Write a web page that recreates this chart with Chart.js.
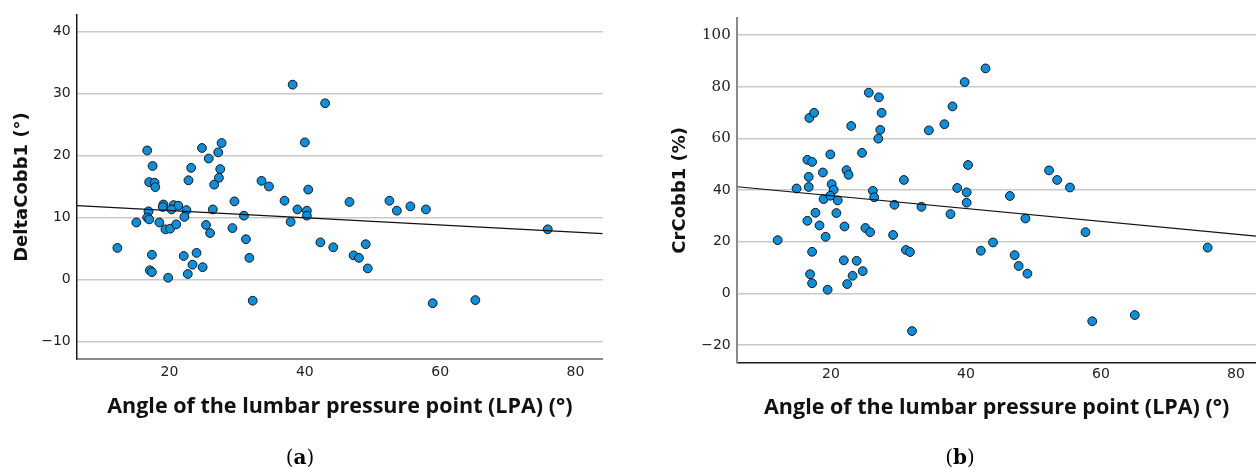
<!DOCTYPE html>
<html>
<head>
<meta charset="utf-8">
<script src="https://cdn.jsdelivr.net/npm/chart.js@4.4.1/dist/chart.umd.min.js"></script>
<style>
    html, body { margin: 0; padding: 0; background: #fff; }
    #wrap { position: relative; width: 1256px; height: 468px; overflow: hidden; }
    .box { position: absolute; top: 0; height: 468px; }
    #boxA { left: 0; width: 640px; }
    #boxB { left: 640px; width: 616px; }
    .cap { position: absolute; top: 445px; font-family: 'DejaVu Serif', serif; font-size: 20px; color: #000; transform: translateX(-50%); }
</style>
</head>
<body>
<div id="wrap">
    <div class="box" id="boxA"><canvas id="chartA" width="640" height="468"></canvas></div>
    <div class="box" id="boxB"><canvas id="chartB" width="616" height="468"></canvas></div>
    <div class="cap" style="left:300px">(<b>a</b>)</div>
    <div class="cap" style="left:960px">(<b>b</b>)</div>
</div>
<script>
// (a) LPA vs DeltaCobb1
const lpaA = [38.2, 40.0, 16.7, 17.5, 24.8, 25.8, 27.2, 27.7, 23.2, 27.5,
    17.0, 17.8, 17.9, 22.8, 27.3, 26.6, 33.6, 34.7, 40.5, 37.0,
    29.6, 19.1, 20.6, 21.3, 20.3, 22.5, 16.9, 16.7, 17.0, 15.1,
    18.5, 19.4, 20.1, 21.0, 22.2, 26.4, 25.4, 26.0, 29.3, 31.0,
    31.3, 37.9, 38.9, 40.3, 40.3, 42.3, 12.3, 17.4, 22.1, 24.0,
    23.4, 24.9, 22.7, 31.8, 17.1, 17.4, 19.8, 32.3, 46.6, 52.5,
    53.6, 55.6, 57.9, 44.2, 47.2, 48.0, 49.0, 49.3, 58.9, 65.2,
    75.9, 43.0, 19.0];
const deltaCobb1 = [31.4, 22.1, 20.8, 18.3, 21.2, 19.5, 20.5, 22.0, 18.0, 17.8,
    15.7, 15.6, 14.9, 16.0, 16.4, 15.3, 15.9, 15.0, 14.5, 12.7,
    12.6, 12.1, 12.0, 11.9, 11.3, 11.2, 11.0, 10.0, 9.7, 9.2,
    9.2, 8.1, 8.2, 8.9, 10.1, 11.3, 8.8, 7.5, 8.3, 10.3,
    6.5, 9.3, 11.3, 11.1, 10.3, 6.0, 5.1, 4.0, 3.8, 4.3,
    2.4, 2.0, 0.9, 3.5, 1.5, 1.2, 0.3, -3.4, 12.5, 12.7,
    11.1, 11.8, 11.3, 5.2, 3.9, 3.5, 5.7, 1.8, -3.8, -3.3,
    8.1, 28.4, 11.7];
const fitA = { intercept: 12.27, slope: -0.058 };

// (b) LPA vs CrCobb1
const lpaB = [25.6, 27.1, 27.5, 16.8, 17.5, 23.0, 27.3, 27.0, 34.5, 36.8,
    38.0, 16.5, 17.2, 19.9, 24.6, 16.7, 18.8, 22.3, 22.6, 30.8,
    42.9, 39.8, 40.3, 52.3, 53.5, 16.7, 14.9, 20.1, 20.4, 18.9,
    19.9, 21.0, 26.2, 26.4, 29.4, 33.4, 37.7, 38.7, 17.7, 20.8,
    16.5, 18.3, 22.0, 19.2, 25.1, 25.8, 29.2, 12.1, 17.2, 31.1,
    31.7, 21.9, 23.8, 24.7, 16.9, 17.2, 23.2, 22.4, 19.5, 32.0,
    55.4, 40.1, 40.1, 46.5, 48.8, 57.7, 44.0, 42.2, 47.2, 47.8,
    49.1, 75.8, 58.7, 65.0];
const crCobb1 = [77.7, 75.9, 69.9, 67.9, 69.9, 64.8, 63.3, 59.9, 63.1, 65.5,
    72.4, 51.7, 50.9, 53.8, 54.4, 45.1, 46.8, 47.7, 45.9, 43.9,
    87.1, 81.8, 49.7, 47.6, 43.9, 41.2, 40.6, 42.3, 40.1, 36.5,
    37.8, 36.0, 39.7, 37.2, 34.3, 33.5, 30.7, 40.8, 31.2, 31.1,
    28.1, 26.3, 25.9, 21.9, 25.3, 23.7, 22.6, 20.6, 16.1, 16.8,
    16.0, 12.8, 12.6, 8.6, 7.4, 3.9, 6.8, 3.6, 1.4, -14.6,
    41.0, 39.1, 35.1, 37.7, 29.0, 23.7, 19.7, 16.5, 14.8, 10.6,
    7.6, 17.7, -10.8, -8.4];
const fitB = { intercept: 42.8, slope: -0.249 };

const xTicks = [20, 40, 60, 80];
const yTicksA = [-10, 0, 10, 20, 30, 40];
const yTicksB = [-20, 0, 20, 40, 60, 80, 100];

const xTitle = 'Angle of the lumbar pressure point (LPA) (°)';

function toPoints(xs, ys) {
    return xs.map((x, i) => ({ x: x, y: ys[i] }));
}

function fixTicks(values) {
    return scale => { scale.ticks = values.map(v => ({ value: v })); };
}

function minusSign(v) {
    return String(v).replace('-', '\u2212');
}

function makeScatter(id, xs, ys, fit, cfg) {
    const fitLine = [cfg.xMin, cfg.xMax].map(x => ({ x: x, y: fit.intercept + fit.slope * x }));

    return new Chart(document.getElementById(id), {
        type: 'scatter',
        data: {
            datasets: [
                {
                    type: 'line',
                    data: fitLine,
                    borderColor: '#111',
                    borderWidth: 1.2,
                    pointRadius: 0,
                    fill: false
                },
                {
                    data: toPoints(xs, ys),
                    backgroundColor: '#0b8fdf',
                    borderColor: '#141414',
                    borderWidth: 1,
                    pointRadius: 4.4
                }
            ]
        },
        options: {
            responsive: false,
            animation: false,
            layout: { padding: cfg.padding, autoPadding: false },
            plugins: {
                legend: { display: false },
                tooltip: { enabled: false }
            },
            scales: {
                x: {
                    type: 'linear',
                    min: cfg.xMin,
                    max: cfg.xMax,
                    afterBuildTicks: fixTicks(xTicks),
                    afterFit: s => {
                        s.height = cfg.xHeight;
                        s.paddingLeft = 0;
                        s.paddingRight = 0;
                    },
                    grid: { display: false, drawTicks: false },
                    border: { color: cfg.xBorder, width: cfg.xBorderWidth },
                    ticks: {
                        color: '#222',
                        padding: cfg.xTickPad,
                        font: { family: 'DejaVu Sans', size: 14 }
                    },
                    title: {
                        display: true,
                        text: xTitle,
                        color: '#111',
                        font: { family: 'Open Sans', size: 21.5, weight: 'bold' },
                        padding: { top: 0, bottom: cfg.xTitlePad }
                    }
                },
                y: {
                    min: cfg.yMin,
                    max: cfg.yMax,
                    afterBuildTicks: fixTicks(cfg.yTicks),
                    afterFit: s => { s.width = cfg.yWidth; },
                    grid: { color: '#c9c9c9', lineWidth: 1.5, drawTicks: false },
                    border: { color: cfg.yBorder, width: cfg.yBorderWidth },
                    ticks: {
                        color: '#222',
                        padding: cfg.yTickPad,
                        callback: minusSign,
                        font: cfg.yTickFont
                    },
                    title: {
                        display: true,
                        text: cfg.yTitle,
                        color: '#111',
                        font: { family: 'DejaVu Sans', size: 18, weight: 'bold' },
                        padding: { top: cfg.yTitlePad, bottom: 0 }
                    }
                }
            }
        }
    });
}

makeScatter('chartA', lpaA, deltaCobb1, fitA, {
    xMin: 6.33, xMax: 84.02, yMin: -12.79, yMax: 42.62,
    yTicks: yTicksA,
    yTitle: 'DeltaCobb1 (°)',
    padding: { left: 0, top: 15, right: 37.3, bottom: 0 },
    xHeight: 109, xTickPad: 4.5, xTitlePad: 48.5,
    yWidth: 77, yTickPad: 6.3, yTitlePad: 11.5,
    xBorder: '#8a8a8a', xBorderWidth: 2,
    yBorder: '#1a1a1a', yBorderWidth: 1.5,
    yTickFont: { family: 'DejaVu Sans', size: 14 }
});

makeScatter('chartB', lpaB, crCobb1, fitB, {
    xMin: 6.12, xMax: 82.96, yMin: -26.7, yMax: 106.5,
    yTicks: yTicksB,
    yTitle: 'CrCobb1 (%)',
    padding: { left: 0, top: 18.3, right: 0, bottom: 0 },
    xHeight: 105.7, xTickPad: 4, xTitlePad: 47.2,
    yWidth: 97.3, yTickPad: 6.6, yTitlePad: 29.8,
    xBorder: '#1a1a1a', xBorderWidth: 1.5,
    yBorder: '#8a8a8a', yBorderWidth: 2,
    yTickFont: ctx => (ctx.tick && ctx.tick.value >= 60)
        ? { family: 'DejaVu Serif', size: 15 }
        : { family: 'DejaVu Sans', size: 14 }
});
</script>
</body>
</html>
